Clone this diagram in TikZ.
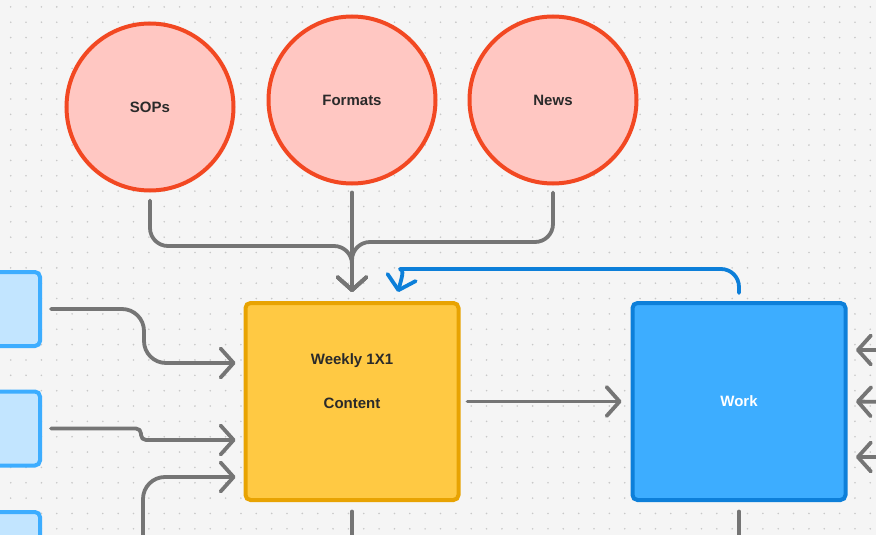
\documentclass[tikz,border=0pt]{standalone}
\usepackage{fontspec}
\setmainfont{Liberation Sans}
\usetikzlibrary{arrows.meta,calc}
\definecolor{paper}{HTML}{F5F5F5}
\definecolor{dotc}{HTML}{C8C8C8}
\definecolor{ink}{HTML}{2A2A2A}
\definecolor{redline}{HTML}{F24822}
\definecolor{redfill}{HTML}{FFC7C2}
\definecolor{yelfill}{HTML}{FFC943}
\definecolor{yelline}{HTML}{E8A302}
\definecolor{bluefill}{HTML}{3DADFF}
\definecolor{blueline}{HTML}{0D7FD9}
\definecolor{palefill}{HTML}{C2E5FF}
\definecolor{greyline}{HTML}{757575}
\tikzset{
  lbl/.style={font=\bfseries\fontsize{15}{18}\selectfont,text=ink},
  circ/.style={circle,draw=redline,fill=redfill,line width=4pt,minimum size=167pt,lbl},
  box/.style={rectangle,rounded corners=5pt,line width=4pt,minimum width=213pt,minimum height=197pt,lbl},
  side/.style={rectangle,rounded corners=5pt,line width=4pt,draw=bluefill,fill=palefill,minimum width=80pt,minimum height=74pt},
  line/.style={draw=greyline,line width=3.8pt,line cap=round,line join=round},
  link/.style={line,rounded corners=18pt,-{Straight Barb[length=13pt,width=29pt,round]}},
  back/.style={link,draw=blueline}
}
\begin{document}
\begin{tikzpicture}[x=1pt,y=-1pt]
  \useasboundingbox (0,0) rectangle (876,535);
  \clip (0,0) rectangle (876,535);
  \fill[paper] (0,0) rectangle (876,535);
  \foreach \i in {0,...,56}
    \foreach \j in {0,...,34}
      \fill[dotc] (10.7+15.35*\i,6.9+15.35*\j) circle (0.9pt);

  \node[circ] (S) at (150,107) {SOPs};
  \node[circ] (F) at (352,100) {Formats};
  \node[circ] (N) at (553,100) {News};
  \node[box,draw=yelline,fill=yelfill] (C) at (352,401.5) {};
  \node[lbl] (C1) at ($(C.center)+(0,-41)$) {Weekly 1X1};
  \node[lbl] (C2) at ($(C.center)+(0,1.5)$) {Content};
  \node[box,draw=blueline,fill=bluefill,text=white] (W) at (739,401.5) {Work};
  \node[side] (L1) at (0,309) {};
  \node[side] (L2) at (0,428.5) {};
  \node[side] (L3) at (0,549) {};
  \coordinate (P3) at (143,545);
  \coordinate (R1) at (885,350);
  \coordinate (R2) at (885,402);
  \coordinate (R3) at (885,457);
  \coordinate (D1) at (352,545);
  \coordinate (D2) at (739,545);

  \draw[link] ($(S.south)+(0,8)$) |- ($(C.north)+(0,-55)$) -- ($(C.north)+(0,-9)$);
  \draw[link] ($(N.south)+(0,7)$) |- ($(C.north)+(0,-59)$) -- ($(C.north)+(0,-9)$);
  \draw[link] ($(F.south)+(0,7)$) -- ($(C.north)+(0,-9)$);
  \draw[link,rounded corners=22pt] ($(L1.east)+(9,0)$) -- ++(93,0) -- ++(0,54) -- ($(C.west)+(-8,-38.5)$);
  \draw[link,rounded corners=5pt] ($(L2.east)+(9,0)$) -- ++(90,0) -- ++(0,11.5) -- ($(C.west)+(-8,38.5)$);
  \draw[link,rounded corners=22pt] (P3) |- ($(C.west)+(-8,75.5)$);
  \draw[link] ($(C.east)+(7,0)$) -- ($(W.west)+(-9,0)$);
  \draw[link] (R1) -- ($(W.east)+(8.5,-51.5)$);
  \draw[link] (R2) -- ($(W.east)+(8.5,0)$);
  \draw[link] (R3) -- ($(W.east)+(8.5,55.5)$);
  \draw[back] ($(W.north)+(0,-8)$) -- ++(0,-24) -- ($(C.north)+(66,-32)$)
    .. controls ($(C.north)+(53,-32)$) and ($(C.north)+(49,-21)$) .. ($(C.north)+(46,-9)$);
  \draw[line] ($(C.south)+(0,9.5)$) -- (D1);
  \draw[line] ($(W.south)+(0,9.5)$) -- (D2);
\end{tikzpicture}
\end{document}
